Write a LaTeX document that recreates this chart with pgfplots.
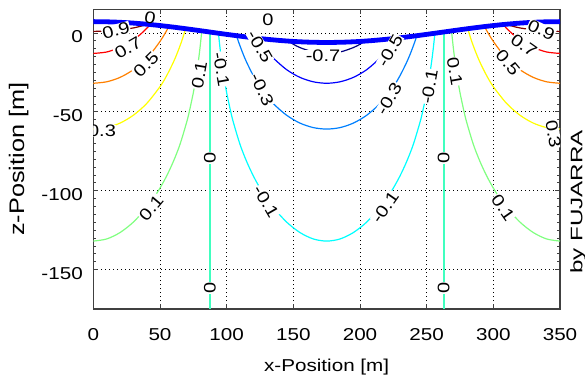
\documentclass[border=0pt]{standalone}
\usepackage{fontspec}
\setmainfont{Liberation Sans}[FakeStretch=1.2]
\newfontfamily\fujfont{Liberation Sans}[FakeStretch=1.45]
\usepackage{pgfplots}
\pgfplotsset{compat=1.18}
\definecolor{c09}{rgb}{0.5,0,0}
\definecolor{c07}{rgb}{1,0,0}
\definecolor{c05}{rgb}{1,0.5,0}
\definecolor{c03}{rgb}{1,1,0}
\definecolor{c01}{rgb}{0.5,1,0.5}
\definecolor{c00}{rgb}{0.25,1,0.75}
\definecolor{cm01}{rgb}{0,1,1}
\definecolor{cm03}{rgb}{0,0.5,1}
\definecolor{cm05}{rgb}{0,0,1}
\definecolor{cm07}{rgb}{0,0,0.5}
\tikzset{cl/.style={font=\fontsize{12.5}{14}\selectfont, fill=white, inner sep=0.3pt},
  ct/.style={line width=0.9pt, smooth}}
\begin{document}
\begin{tikzpicture}
\path[use as bounding box] (-70pt,-52.5pt) rectangle (368.75pt,231.8pt);
\begin{axis}[
 scale only axis, width=350pt, height=224.8pt,
 xmin=0, xmax=350, ymin=-175, ymax=15,
 xtick={0,50,100,150,200,250,300,350}, ytick={-150,-100,-50,0},
 xticklabels={0,50,100,150,200,250,300,350}, yticklabels={-150,-100,-50,0},
 minor y tick num=9,
 tick align=inside, major tick length=3.75pt, minor tick length=2pt,
 grid=major, major grid style={black, dash pattern=on 0.8pt off 2.2pt, line width=0.6pt},
 axis line style={black!75, line width=0.9pt},
 tick style={black!75, line width=0.7pt},
 tick label style={font=\fontsize{12.9}{15}\selectfont, inner sep=0pt},
 xticklabel style={anchor=center, yshift=-19.5pt},
 yticklabel style={anchor=east, xshift=-7.7pt, yshift=-3pt},
 xlabel={x-Position [m]}, ylabel={z-Position [m]},
 xlabel style={font=\fontsize{12.9}{15}\selectfont, at={(axis description cs:0.5,-0.192)}, anchor=center},
 ylabel style={font=\fontsize{15.8}{18}\selectfont, at={(axis description cs:-0.16,0.5)}, anchor=center},
]
% 0.9
\addplot[c09, ct] coordinates {(0,1.0) (10,1.3) (20,2.0) (30,3.2) (36,4.4) (41,5.8)};
\addplot[c09, ct] coordinates {(350,1.0) (340,1.3) (330,2.0) (320,3.2) (314,4.4) (309,5.8)};
% 0.7
\addplot[c07, ct] coordinates {(0,-12.95) (10,-12.05) (20,-9.26) (25,-7.11) (30,-4.41) (35,-1.09) (40,2.92) (42.5,5.2)};
\addplot[c07, ct] coordinates {(350,-12.95) (340,-12.05) (330,-9.26) (325,-7.11) (320,-4.41) (315,-1.09) (310,2.92) (307.5,5.2)};
% 0.5
\addplot[c05, ct] coordinates {(0,-31.86) (10,-30.94) (20,-28.15) (30,-23.27) (40,-15.91) (45,-11.10) (50,-5.34) (53,-1.37) (55,1.58) (56.5,3.9)};
\addplot[c05, ct] coordinates {(350,-31.86) (340,-30.94) (330,-28.15) (320,-23.27) (310,-15.91) (305,-11.10) (300,-5.34) (297,-1.37) (295,1.58) (293.5,3.9)};
% 0.3
\addplot[c03, ct] coordinates {(0,-60.90) (10,-59.97) (20,-57.12) (30,-52.15) (40,-44.70) (50,-34.02) (55,-27.05) (60,-18.59) (63,-12.61) (66,-5.84) (68,-0.63) (69.1,2.6)};
\addplot[c03, ct] coordinates {(350,-60.90) (340,-59.97) (330,-57.12) (320,-52.15) (310,-44.70) (300,-34.02) (295,-27.05) (290,-18.59) (287,-12.61) (284,-5.84) (282,-0.63) (280.9,2.6)};
% 0.1
\addplot[c01, ct] coordinates {(0,-131.9) (10,-130.57) (20,-126.51) (30,-119.89) (40,-110.65) (45,-104.92) (50,-98.30) (55,-90.60) (60,-81.49) (65,-70.61) (70,-56.55) (72,-49.76) (75,-37.88) (76,-33.19) (78,-22.53) (79,-16.40) (80,-9.47) (81,-1.53) (81.4,1.4)};
\addplot[c01, ct] coordinates {(350,-131.9) (340,-130.57) (330,-126.51) (320,-119.89) (310,-110.65) (305,-104.92) (300,-98.30) (295,-90.60) (290,-81.49) (285,-70.61) (280,-56.55) (278,-49.76) (275,-37.88) (274,-33.19) (272,-22.53) (271,-16.40) (270,-9.47) (269,-1.53) (268.6,1.4)};
% 0
\addplot[c00, line width=1.2pt] coordinates {(87.5,-175) (87.5,0.6)};
\addplot[c00, line width=1.2pt] coordinates {(262.8,-175) (262.8,0.6)};
% -0.1
\addplot[cm01, ct] coordinates {(93.85,-0.3) (94,-1.53) (95,-9.47) (96,-16.40) (97,-22.53) (99,-33.19) (100,-37.88) (103,-49.76) (105,-56.55) (110,-70.61) (115,-81.49) (120,-90.60) (125,-98.30) (130,-104.92) (135,-110.65) (145,-119.89) (155,-126.51) (165,-130.57) (175,-131.9) (185,-130.57) (195,-126.51) (205,-119.89) (215,-110.65) (220,-104.92) (225,-98.30) (230,-90.60) (235,-81.49) (240,-70.61) (245,-56.55) (247,-49.76) (250,-37.88) (251,-33.19) (253,-22.53) (254,-16.40) (255,-9.47) (256,-1.53) (256.15,-0.3)};
% -0.3
\addplot[cm03, ct] coordinates {(107.45,-1.8) (108,-3.26) (109,-5.84) (112,-12.61) (115,-18.59) (120,-27.05) (125,-34.02) (135,-44.70) (145,-52.15) (155,-57.12) (165,-59.97) (175,-60.90) (185,-59.97) (195,-57.12) (205,-52.15) (215,-44.70) (225,-34.02) (230,-27.05) (235,-18.59) (238,-12.61) (241,-5.84) (242,-3.26) (242.55,-1.8)};
% -0.5
\addplot[cm05, ct] coordinates {(123.6,-3.4) (124,-3.99) (125,-5.34) (130,-11.10) (135,-15.91) (145,-23.27) (155,-28.15) (165,-30.94) (175,-31.86) (185,-30.94) (195,-28.15) (205,-23.27) (215,-15.91) (220,-11.10) (225,-5.34) (226,-3.99) (226.4,-3.4)};
% -0.7
\addplot[cm07, ct] coordinates {(146.25,-5.15) (147,-5.56) (150,-7.11) (155,-9.26) (165,-12.05) (175,-12.95) (185,-12.05) (195,-9.26) (200,-7.11) (203,-5.56) (203.75,-5.15)};
% free surface
\addplot[blue, line width=3.6pt, smooth] coordinates {(0,7.2) (10,7.09) (20,6.78) (30,6.27) (40,5.57) (50,4.72) (60,3.73) (70,2.64) (80,1.49) (90,0.30) (100,-0.87) (110,-1.99) (120,-3.04) (130,-3.96) (140,-4.74) (150,-5.35) (160,-5.76) (170,-5.97) (175,-6.0) (180,-5.97) (190,-5.76) (200,-5.35) (210,-4.74) (220,-3.96) (230,-3.04) (240,-1.99) (250,-0.87) (260,0.30) (270,1.49) (280,2.64) (290,3.73) (300,4.72) (310,5.57) (320,6.27) (330,6.78) (340,7.09) (350,7.2)};
% contour labels
\node[cl, rotate=15] at (axis cs:17,1.5) {0.9};
\node[cl, rotate=30] at (axis cs:26,-9.5) {0.7};
\node[cl, rotate=45] at (axis cs:39.5,-20) {0.5};
\node[cl, rotate=0] at (axis cs:6.5,-62) {0.3};
\node[cl, rotate=-25] at (axis cs:336,2) {0.9};
\node[cl, rotate=-35] at (axis cs:323,-7.9) {0.7};
\node[cl, rotate=-50] at (axis cs:311,-18.7) {0.5};
\node[cl, rotate=-80] at (axis cs:345,-64) {0.3};
\node[cl, rotate=80] at (axis cs:79.5,-26.6) {0.1};
\node[cl, rotate=-80] at (axis cs:96,-23) {-0.1};
\node[cl, rotate=-80] at (axis cs:271,-24.5) {0.1};
\node[cl, rotate=80] at (axis cs:252,-34) {-0.1};
\node[cl, rotate=50] at (axis cs:43.4,-111) {0.1};
\node[cl, rotate=-60] at (axis cs:129.5,-106.8) {-0.1};
\node[cl, rotate=55] at (axis cs:218.8,-110.6) {-0.1};
\node[cl, rotate=-55] at (axis cs:307.3,-110.6) {0.1};
\node[cl, rotate=90] at (axis cs:87.5,-79) {0};
\node[cl, rotate=90] at (axis cs:87.5,-161.8) {0};
\node[cl, rotate=90] at (axis cs:262.8,-79) {0};
\node[cl, rotate=90] at (axis cs:262.8,-161.8) {0};
\node[cl, rotate=-65] at (axis cs:126.5,-36) {-0.3};
\node[cl, rotate=60] at (axis cs:221.8,-41.6) {-0.3};
\node[cl, rotate=-60] at (axis cs:125,-8.7) {-0.5};
\node[cl, rotate=60] at (axis cs:222.5,-11.2) {-0.5};
\node[cl] at (axis cs:172.3,-14.7) {-0.7};
\node[font=\fontsize{12.5}{14}\selectfont, inner sep=0.3pt, rotate=-10] at (axis cs:42.5,9.7) {0};
\node[font=\fontsize{12.5}{14}\selectfont, inner sep=0.3pt] at (axis cs:131,8.4) {0};
\end{axis}
\node[rotate=90, font=\fujfont\fontsize{12.5}{14}\selectfont] at (363.5pt,80.3pt) {by FUJARRA};
\end{tikzpicture}
\end{document}
